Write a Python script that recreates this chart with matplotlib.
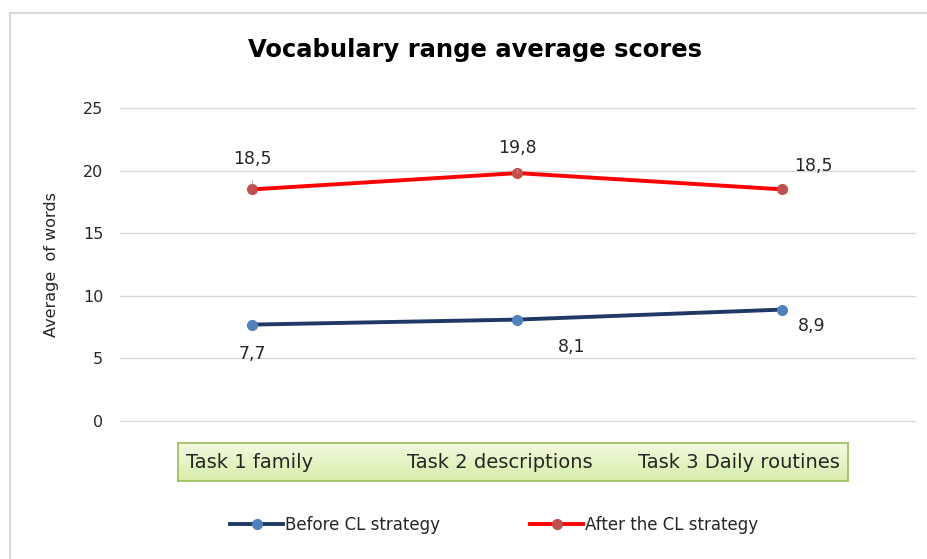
import numpy as np
import matplotlib.pyplot as plt
from matplotlib.lines import Line2D

plt.rcParams['font.family'] = ['DejaVu Sans']

categories = ["Task 1 family", "Task 2 descriptions", "Task 3 Daily routines"]
before = [7.7, 8.1, 8.9]
after = [18.5, 19.8, 18.5]
before_labels = ["7,7", "8,1", "8,9"]
after_labels = ["18,5", "19,8", "18,5"]

fig = plt.figure(figsize=(9.28, 5.59), dpi=100)
ax = fig.add_axes([120/928, 1-421/559, 795/928, 313/559])

x = np.arange(len(categories)) + 0.5
ax.plot(x, before, color="#1f3864", lw=2.8, marker="o", ms=7,
        mfc="#4f81bd", mec="#4f81bd", zorder=3)
ax.plot(x, after, color="#ff0000", lw=2.8, marker="o", ms=7,
        mfc="#c0504d", mec="#c0504d", zorder=3)

# data labels (offsets in points)
after_off = [(0, 22), (0, 18), (22, 17)]
before_off = [(0, -21), (39, -20), (21, -12)]
for xi, v, lab, off in zip(x, after, after_labels, after_off):
    ax.annotate(lab, (xi, v), xytext=off, textcoords="offset points",
                ha="center", va="center", fontsize=12.5, color="#262626",
                arrowprops=dict(arrowstyle="-", color="#a6a6a6", lw=0.6,
                                shrinkA=7, shrinkB=3) if off[0] == 0 else None)
for xi, v, lab, off in zip(x, before, before_labels, before_off):
    ax.annotate(lab, (xi, v), xytext=off, textcoords="offset points",
                ha="center", va="center", fontsize=12.5, color="#262626")

ax.set_xlim(0, 3)
ax.set_ylim(0, 25)
ax.set_yticks(range(0, 26, 5))
ax.set_xticks([])
ax.tick_params(axis="y", length=0, pad=12, labelsize=11.5, labelcolor="#262626")
ax.grid(axis="y", color="#d9d9d9", lw=1)
for gl in ax.get_ygridlines():
    gl.set_clip_on(False)
ax.set_axisbelow(True)
for s in ax.spines.values():
    s.set_visible(False)
ax.set_ylabel("Average  of words", fontsize=11.5, color="#262626", labelpad=17)

# category text box with green gradient
bx = fig.add_axes([178/928, 1-481/559, 670/928, 38/559])
grad = np.linspace(0, 1, 64).reshape(-1, 1)
top = np.array([0.95, 0.98, 0.88])
bot = np.array([0.84, 0.93, 0.66])
img = top + grad[..., None] * (bot - top)
bx.imshow(img, aspect="auto", extent=[0, 1, 0, 1], origin="upper")
bx.set_xticks([])
bx.set_yticks([])
for s in bx.spines.values():
    s.set_color("#9bbb59")
    s.set_linewidth(1.2)
cat_x = [(250-178)/670, (500-178)/670, (739-178)/670]
for cx, c in zip(cat_x, categories):
    bx.text(cx, 0.5, c, ha="center", va="center", fontsize=14,
            color="#262626", transform=bx.transAxes)

# title
fig.text(475/928, 1-50/559, "Vocabulary range average scores",
         ha="center", va="center", fontsize=17.5, fontweight="bold", color="black")

# legend
handles = [
    Line2D([], [], color="#1f3864", lw=2.8, marker="o", ms=7,
           mfc="#4f81bd", mec="#4f81bd"),
    Line2D([], [], color="#ff0000", lw=2.8, marker="o", ms=7,
           mfc="#c0504d", mec="#c0504d"),
]
fig.legend(handles, ["Before CL strategy", "After the CL strategy"],
           loc="center", bbox_to_anchor=(494/928, 1-525/559), ncol=2,
           frameon=False, fontsize=12, handlelength=3.2, handletextpad=0.1,
           columnspacing=5.4, labelcolor="#262626")

# chart border (top and left edges)
fig.add_artist(Line2D([10/928, 1], [1-12.5/559]*2, color="#d9d9d9", lw=1.5))
fig.add_artist(Line2D([10/928]*2, [0, 1-12.5/559], color="#d9d9d9", lw=1.5))

fig.savefig("out.png", dpi=100)
